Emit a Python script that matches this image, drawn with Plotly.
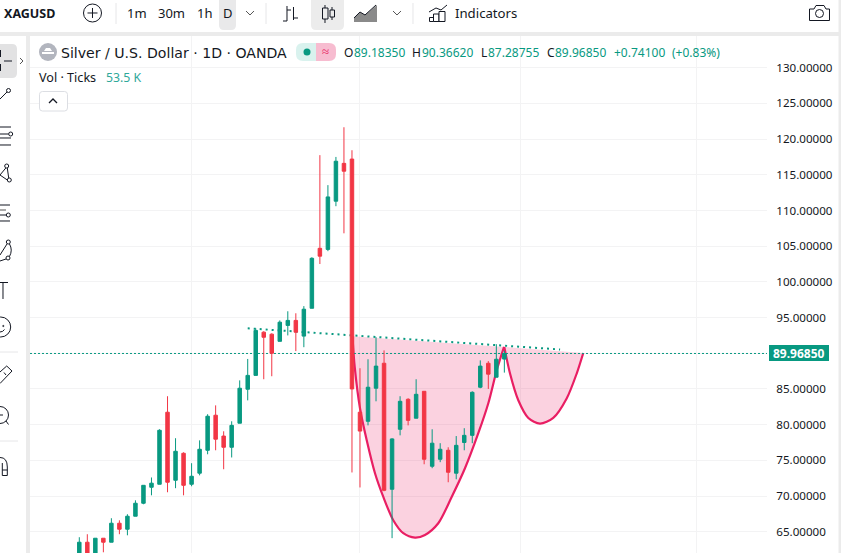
import plotly.graph_objects as go

# Daily XAGUSD candles
session = list(range(54))
opens = [61.5, 63.53, 60.9, 64.09, 63.53, 66.19, 65.35, 67.17, 68.99, 71.23, 71.65, 81.74, 72.21, 75.99,
         71.65, 73.2, 76.41, 81.32, 78.4, 76.83, 80.2, 84.96, 86.9, 92.95, 92.67, 91.67, 93.9, 94.6,
         92.4, 96.3, 104.7, 104.55, 111.3, 116.6, 117.2, 81.74, 80.47, 85.1, 88.6, 70.95, 79.35, 83.55,
         80.9, 84.67, 74.17, 75.15, 76.41, 73.2, 77.5, 78.5, 85.24, 88.6, 86.64, 89.1835]
highs = [64.23, 64.65, 64.09, 64.09, 66.89, 66.6, 67.45, 69.4, 71.5, 72.6, 79.35, 83.98, 78.1, 76.13,
         74.6, 77.8, 81.46, 82.7, 79.07, 80.47, 86.2, 89.2, 93.5, 93.09, 92.8, 94.6, 95.88, 95.6,
         96.6, 103.45, 117.75, 113.55, 117.5, 121.66, 118.44, 87.9, 89.16, 92.25, 90.4, 78.1, 83.98, 83.7,
         86.36, 84.67, 79.35, 77.4, 76.83, 78.4, 79.5, 84.67, 89.0, 88.9, 91.27, 90.3662]
lows = [60.5, 60.3, 60.5, 62.12, 63.53, 64.65, 64.5, 67.17, 68.85, 70.1, 71.65, 70.53, 71.1, 70.1,
        71.37, 72.9, 75.85, 76.41, 73.75, 75.4, 80.2, 83.4, 86.9, 86.36, 86.78, 91.67, 92.5, 90.3,
        90.85, 96.3, 102.5, 104.3, 110.6, 106.8, 73.3, 71.2, 79.9, 83.27, 70.67, 64.1, 78.5, 79.9,
        80.9, 74.45, 73.9, 74.74, 71.93, 72.35, 76.41, 77.4, 85.1, 85.0, 86.64, 87.28755]
closes = [63.53, 60.8, 64.09, 63.53, 66.19, 65.35, 67.17, 68.99, 71.5, 71.8, 79.21, 71.93, 76.27, 71.5,
          72.77, 76.55, 81.18, 77.96, 76.83, 79.9, 85.1, 86.9, 93.2, 92.24, 90.0, 94.35, 94.6, 92.95,
          96.17, 103.3, 103.6, 111.9, 116.9, 115.5, 85.0, 79.1, 85.24, 88.2, 70.8, 78.0, 83.27, 80.6,
          84.25, 75.15, 77.4, 76.55, 73.33, 77.1, 78.5, 84.53, 88.2, 87.07, 89.16, 89.9685]

# Quote read-out
last_open, last_high, last_low, last_close = opens[-1], highs[-1], lows[-1], closes[-1]
change_abs = "+0.74100"
change_pct = "(+0.83%)"
volume_label = "53.5 K"

# Price axis; the 90 label sits behind the last price tag
price_ticks = list(range(65, 135, 5))
price_labels = ["" if v == 90 else f"{v:.5f}" for v in price_ticks]
session_grid = [14, 35, 55, 77]
session_range = [-6.147, 85.75]
price_range = [62.02, 134.44]

# Cup and handle drawing
cup_t = [34.06, 34.34, 35.0, 35.84, 36.87, 37.91, 39.15, 40.4, 41.86, 43.1, 44.76, 46.43, 48.09, 49.75, 51.0, 52.05, 52.96]
cup_p = [92.38, 88.08, 82.3, 77.81, 73.19, 69.87, 66.61, 64.79, 64.18, 64.55, 66.19, 69.87, 73.89, 78.8, 83.0, 87.62, 90.89]
handle_t = [52.99, 53.7, 54.74, 55.99, 57.44, 59.1, 60.77, 62.02, 62.84]
handle_p = [90.89, 87.2, 83.42, 80.94, 80.15, 80.94, 83.66, 87.16, 90.04]
neck_t = [21.0, 59.95]
neck_p = [93.5, 90.53]

GREEN = "#089981"
RED = "#F23645"
INK = "#131722"
GRID = "#f3f3f4"
BAND = "#ebebeb"
CRIMSON = "#e91e63"
FONT = "Noto Sans"

W, H = 841, 553
L, T, R = 30, 36, 767


def px(x):
    return (x - L) / (R - L)


def py(y):
    return 1 - (y - T) / (H - T)


shapes = []
notes = []


def rect(x0, y0, x1, y1, fill, line=None, lw=1):
    shapes.append(dict(type="rect", xref="paper", yref="paper", layer="above",
                       x0=px(x0), x1=px(x1), y0=py(y0), y1=py(y1), fillcolor=fill,
                       line=dict(color=line or "rgba(0,0,0,0)", width=lw if line else 0)))


def pill(x0, y0, x1, y1, r, fill, line=None, corners=(True, True, True, True)):
    # Rounded box; corners run top-left, top-right, bottom-right, bottom-left
    def pt(a, b):
        return f"{px(a):.5f},{py(b):.5f}"
    tl, tr, br, bl = [r if c else 0 for c in corners]
    d = (f"M{pt(x0 + tl, y0)} L{pt(x1 - tr, y0)} Q{pt(x1, y0)} {pt(x1, y0 + tr)} "
         f"L{pt(x1, y1 - br)} Q{pt(x1, y1)} {pt(x1 - br, y1)} L{pt(x0 + bl, y1)} "
         f"Q{pt(x0, y1)} {pt(x0, y1 - bl)} L{pt(x0, y0 + tl)} Q{pt(x0, y0)} {pt(x0 + tl, y0)} Z")
    shapes.append(dict(type="path", xref="paper", yref="paper", layer="above", path=d, fillcolor=fill,
                       line=dict(color=line or "rgba(0,0,0,0)", width=1 if line else 0)))


def poly(points, color=INK, lw=1, fill=None, close=False):
    d = "M" + " L".join(f"{px(a):.5f},{py(b):.5f}" for a, b in points) + (" Z" if close else "")
    shapes.append(dict(type="path", xref="paper", yref="paper", layer="above", path=d,
                       fillcolor=fill or "rgba(0,0,0,0)", line=dict(color=color, width=lw)))


def curve(a, ctrl, b, color=INK, lw=1):
    d = f"M{px(a[0]):.5f},{py(a[1]):.5f} Q{px(ctrl[0]):.5f},{py(ctrl[1]):.5f} {px(b[0]):.5f},{py(b[1]):.5f}"
    shapes.append(dict(type="path", xref="paper", yref="paper", layer="above", path=d,
                       line=dict(color=color, width=lw)))


def dot(cx, cy, r, fill="rgba(0,0,0,0)", line=INK, lw=1):
    shapes.append(dict(type="circle", xref="paper", yref="paper", layer="above",
                       x0=px(cx - r), x1=px(cx + r), y0=py(cy - r), y1=py(cy + r), fillcolor=fill,
                       line=dict(color=line, width=lw)))


def label(x, y, text, size=12.5, color=INK, anchor="left", family=FONT):
    notes.append(dict(xref="paper", yref="paper", x=px(x), y=py(y), text=text, showarrow=False,
                      xanchor=anchor, yanchor="middle", xshift=-2 if anchor == "left" else 0, align="left",
                      font=dict(family=family, size=size, color=color)))


# Window panels and separators
rect(0, 0, W, 32, "#ffffff")
rect(0, 32, W, 36, BAND)
rect(0, 32, 26, H, "#ffffff")
rect(26, 32, 30, H, BAND)
rect(838.5, 0, W, H, BAND)
rect(0, 32, 26, 36, BAND)
for sx in (116, 266, 413):
    poly([(sx, 3), (sx, 24)], "#e6e6e8")
pill(219, -4, 236, 30, 5, "#e9e9ea")
pill(311, -4, 344, 30, 5, "#ececec")
pill(-6, 44, 17, 78, 5, "#e2e2e3")

# Top toolbar
label(4, 13, "<b>XAGUSD</b>", 12.5, INK)
dot(92.5, 13, 9)
poly([(92.5, 8), (92.5, 18)])
poly([(87.5, 13), (97.5, 13)])
label(127, 13, "1m", 13)
label(158, 13, "30m", 13)
label(197, 13, "1h", 13)
label(223, 13, "D", 13)
label(455, 13, "Indicators", 13.2)
for cx in (250, 397):
    poly([(cx - 4, 11), (cx, 15), (cx + 4, 11)], "#555555")
# bar-style icon
poly([(283, 21), (287, 21), (287, 6)])
poly([(287, 10), (291, 10)])
poly([(293.5, 7), (293.5, 20)])
poly([(293.5, 18), (298, 18)])
# candle icon
poly([(325, 5), (325, 23)])
rect(322.5, 8, 328, 19, "#ececec", INK)
poly([(332, 7), (332, 20)])
rect(330, 10, 334.5, 17, "#ececec", INK)
# area icon
poly([(354, 22), (354, 18), (360, 12), (365, 15), (377, 5), (377, 22)], "rgba(0,0,0,0)", 0, fill="#8a8a8a", close=True)
poly([(354, 18), (360, 12), (365, 15), (376, 5)])
# indicators icon
poly([(429, 12), (436, 8), (441, 10), (447, 5)])
rect(429.5, 17.5, 433.5, 21.5, "#ffffff", INK)
rect(433.5, 14, 439, 21.5, "#ffffff", INK)
rect(439, 11.5, 445, 21.5, "#ffffff", INK)
# camera icon
poly([(809.5, 9), (814, 9), (816, 5.5), (824, 5.5), (826, 9), (829.5, 9), (829.5, 20.5), (809.5, 20.5)], close=True)
dot(819.5, 13.5, 4)

# Side toolbar
poly([(0.5, 50), (0.5, 57)])
poly([(0.5, 64), (0.5, 71)])
poly([(4, 61), (12, 61)])
poly([(20, 58), (23, 61), (20, 64)], "#555555")
poly([(0, 99), (7, 92)])
dot(8.5, 90.5, 2)
for ly, x1 in ((127, 11), (138, 11), (145, 11)):
    poly([(0, ly), (x1, ly)])
poly([(0, 134), (8.5, 134)])
dot(10.7, 134, 2)
dot(6.7, 166, 2)
dot(9.3, 180, 2)
poly([(5.8, 168), (0, 175), (7.3, 180)])
poly([(7.3, 168), (8.7, 178)])
poly([(0, 205), (10, 205)])
poly([(0, 210), (6, 210)], "#555555")
poly([(0, 215), (6, 215)])
dot(8.3, 215, 2)
poly([(0, 221), (10, 221)])
dot(8.3, 242, 2)
dot(8, 258, 2)
curve((9.5, 244), (13, 250), (9.5, 256.5))
poly([(7, 244), (0, 255)])
poly([(6, 259), (0, 261)])
poly([(0, 282.5), (8, 282.5)])
poly([(3, 282.5), (3, 299)])
dot(0.7, 327, 10)
dot(3.3, 326, 0.6)
curve((0, 332), (3, 332), (4.5, 329.5))
poly([(0, 352), (18, 352)], "#e6e6e8")
poly([(0, 372), (6.7, 366), (12, 371), (0, 383.5)])
poly([(4, 372.5), (6, 375)])
dot(0, 415, 8.5)
poly([(0, 415), (3, 415)])
poly([(6, 421), (8.5, 424.5)])
poly([(0, 441), (18, 441)], "#e6e6e8")
curve((0, 457.5), (7.3, 457.5), (7.3, 467))
poly([(7.3, 467), (7.3, 475.5), (2.3, 475.5), (2.3, 463)])
poly([(2.3, 470), (7.3, 470)])

# Legend row
dot(48, 52, 9, fill="#b2b5be", line="#b2b5be", lw=0)
poly([(44, 51), (46, 48), (50, 48), (52, 51)], "#ffffff", 0, fill="#ffffff", close=True)
rect(42, 52, 54, 54, "#ffffff")
label(61, 52.5, "Silver / U.S. Dollar · 1D · OANDA", 14.1, family="DejaVu Sans")
pill(296, 43, 316, 61, 7, "#d9f2ee", corners=(True, False, False, True))
pill(316, 43, 336, 61, 7, "#f7bcd0", corners=(False, True, True, False))
dot(307, 52, 3.5, fill=GREEN, line=GREEN, lw=0)
label(325.5, 51.5, "≈", 13, CRIMSON, anchor="center")
for lx, vx, key, val in ((344, 353.5, "O", last_open), (411.5, 421.5, "H", last_high),
                         (480.5, 487.5, "L", last_low), (546.5, 555, "C", last_close)):
    label(lx, 52.5, key, 12)
    label(vx, 52.5, f"{val:.5f}", 12, GREEN)
label(614, 52.5, change_abs, 12, GREEN)
label(671.5, 52.5, change_pct, 12, GREEN)
label(39, 77, "Vol · Ticks", 12.6)
label(106, 77, volume_label, 12.3, "#2fa89a")
pill(39.5, 91.5, 67.5, 111, 3, "#ffffff", line="#dcdee3")
poly([(49, 103), (53, 99), (57, 103)], INK, 1.3)

# Last price tag
rect(769, 345, 829, 361, GREEN)
label(799, 353.5, f"<b>{last_close:.5f}</b>", 12, "#ffffff", anchor="center")

fig = go.Figure()
fig.add_trace(go.Scatter(x=cup_t, y=cup_p, mode="lines", fill="toself", fillcolor="rgba(233,30,99,0.2)",
                         line=dict(color=CRIMSON, width=2.2, shape="spline", smoothing=0.8), hoverinfo="skip"))
fig.add_trace(go.Scatter(x=handle_t, y=handle_p, mode="lines", fill="toself", fillcolor="rgba(233,30,99,0.2)",
                         line=dict(color=CRIMSON, width=2.2, shape="spline", smoothing=0.8), hoverinfo="skip"))
fig.add_trace(go.Scatter(x=neck_t, y=neck_p, mode="lines",
                         line=dict(color=GREEN, width=2, dash="2px,4px"), hoverinfo="skip"))
# Dotted marker line at the last close, spanning the whole session axis
fig.add_trace(go.Scatter(x=session_range, y=[last_close, last_close], mode="lines",
                         line=dict(color=GREEN, width=1, dash="2px,2px"), hoverinfo="skip"))
fig.add_trace(go.Candlestick(x=session, open=opens, high=highs, low=lows, close=closes, yaxis="y2",
                             increasing=dict(line=dict(color=GREEN, width=1), fillcolor=GREEN),
                             decreasing=dict(line=dict(color=RED, width=1), fillcolor=RED),
                             whiskerwidth=0, hoverinfo="skip"))

fig.update_layout(
    width=W, height=H, autosize=False, showlegend=False, paper_bgcolor="#ffffff", plot_bgcolor="#ffffff",
    margin=dict(l=L, t=T, r=W - R, b=0, pad=0), boxgap=0.38, shapes=shapes, annotations=notes,
    xaxis=dict(range=session_range, rangeslider=dict(visible=False), showgrid=True, gridcolor=GRID,
               gridwidth=1, tickvals=session_grid, showticklabels=False, ticks="", zeroline=False, showline=False),
    yaxis=dict(range=price_range, side="right", tickvals=price_ticks, ticktext=price_labels,
               showgrid=True, gridcolor=GRID, gridwidth=1, ticks="outside", ticklen=6, tickcolor="#ffffff",
               tickfont=dict(family=FONT, size=11.6, color=INK), zeroline=False, showline=False),
    yaxis2=dict(range=price_range, overlaying="y", side="right", visible=False),
)
fig.write_html("out.html", config=dict(displayModeBar=False))
